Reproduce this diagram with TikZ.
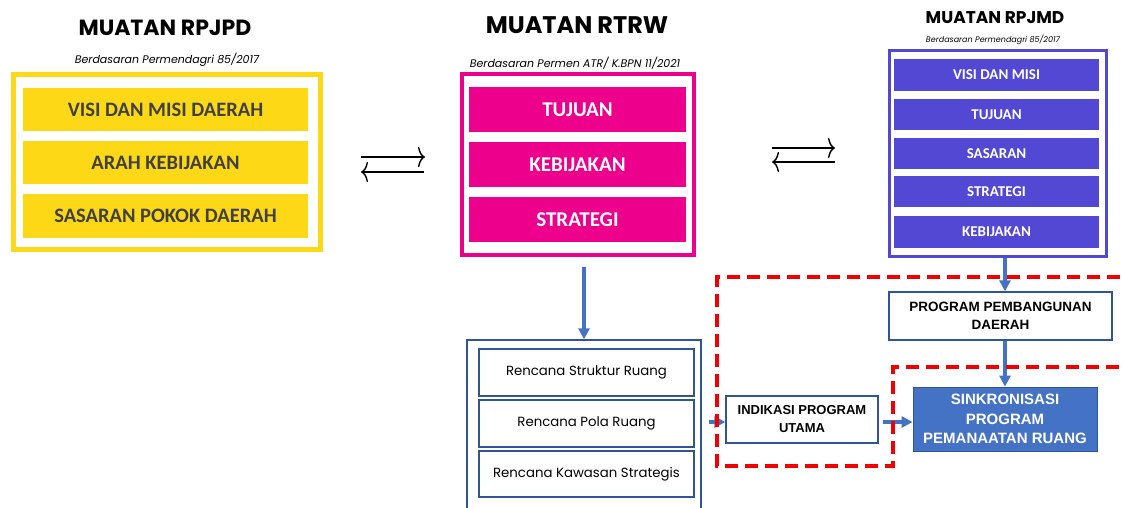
\documentclass[tikz,border=0pt]{standalone}
\usepackage{fontspec}
\setmainfont{Carlito}
\newfontfamily\geo{Poppins}
\newfontfamily\arialish{Liberation Sans}
\usetikzlibrary{arrows.meta, calc}

\definecolor{rpjpdYellow}{RGB}{253,216,22}
\definecolor{boxText}{RGB}{64,64,64}
\definecolor{rtrwPink}{RGB}{236,0,140}
\definecolor{rpjmdViolet}{RGB}{82,72,212}
\definecolor{flowBlue}{RGB}{68,114,196}
\definecolor{edgeBlue}{RGB}{47,85,151}
\definecolor{zoneRed}{RGB}{240,0,0}

\begin{document}
\begin{tikzpicture}[
  x=1pt, y=-1pt,
  title/.style={font=\geo\bfseries\fontsize{22}{24}\selectfont, inner sep=0pt},
  basis/.style={font=\geo\itshape\fontsize{11}{13}\selectfont, inner sep=0pt},
  yframe/.style={draw=rpjpdYellow, line width=5pt, inner sep=0pt},
  pframe/.style={draw=rtrwPink, line width=4.5pt, inner sep=0pt},
  vframe/.style={draw=rpjmdViolet, line width=3pt, inner sep=0pt},
  ybox/.style={fill=rpjpdYellow, text=boxText, minimum width=285pt, minimum height=43pt,
    inner sep=0pt, font=\bfseries\fontsize{20.5}{23}\selectfont},
  pbox/.style={fill=rtrwPink, text=white, minimum width=217pt, minimum height=45pt,
    inner sep=0pt, font=\bfseries\fontsize{21}{24}\selectfont},
  vbox/.style={fill=rpjmdViolet, text=white, minimum width=205pt, minimum height=31pt,
    inner sep=0pt, font=\bfseries\fontsize{15}{17}\selectfont},
  plan/.style={draw=edgeBlue, line width=1.3pt, minimum width=215pt, minimum height=47pt,
    inner sep=0pt, font=\geo\fontsize{13.3}{16}\selectfont},
  prog/.style={draw=edgeBlue, line width=1.3pt, inner sep=0pt, align=center,
    font=\arialish\bfseries\fontsize{13.5}{18}\selectfont},
  sync/.style={fill=flowBlue, draw=edgeBlue, line width=0.8pt, text=white, inner sep=0pt,
    align=center, font=\arialish\bfseries\fontsize{15}{19.5}\selectfont},
  swap/.style={-{To[length=7pt, width=20pt]}, line width=1.4pt},
  flow/.style={-{Triangle[length=11pt, width=11pt]}, line width=3.5pt, draw=flowBlue},
  zone/.style={draw=zoneRed, line width=4pt, dash pattern=on 13pt off 7pt}
]
\clip (0,0) rectangle (1124,508);

% --- RPJPD column ---
\node[title] (tRpjpd) at (165,28) {MUATAN RPJPD};
\node[basis] (bRpjpd) at (167,60) {Berdasaran Permendagri 85/2017};
\node[yframe, minimum width=307pt, minimum height=175pt] (rpjpd) at (167,162) {};
\node[ybox] (rpjpdVisi) at (165.5,109.5) {VISI DAN MISI DAERAH};
\node[ybox] (rpjpdArah) at (165.5,162.5) {ARAH KEBIJAKAN};
\node[ybox, minimum height=44pt] (rpjpdSasaran) at (165.5,216) {SASARAN POKOK DAERAH};

% --- RTRW column ---
\node[title, font=\geo\bfseries\fontsize{24}{26}\selectfont] (tRtrw) at (577,25) {MUATAN RTRW};
\node[basis] (bRtrw) at (575,63) {Berdasaran Permen ATR/ K.BPN 11/2021};
\node[pframe, minimum width=232pt, minimum height=181pt] (rtrw) at (578,164.5) {};
\node[pbox] (rtrwTujuan) at (577.5,109.5) {TUJUAN};
\node[pbox] (rtrwKebijakan) at (577.5,164.5) {KEBIJAKAN};
\node[pbox] (rtrwStrategi) at (577.5,219.5) {STRATEGI};

% --- RPJMD column ---
\node[title, font=\geo\bfseries\fontsize{17}{19}\selectfont] (tRpjmd) at (995,18) {MUATAN RPJMD};
\node[basis, font=\geo\itshape\fontsize{8}{10}\selectfont] (bRpjmd) at (993,40) {Berdasaran Permendagri 85/2017};
\node[vframe, minimum width=217pt, minimum height=206pt] (rpjmd) at (998,153.5) {};
\node[vbox, minimum height=32pt] (rpjmdVisi) at (996.5,75) {VISI DAN MISI};
\node[vbox] (rpjmdTujuan) at (996.5,114.5) {TUJUAN};
\node[vbox] (rpjmdSasaran) at (996.5,153.5) {SASARAN};
\node[vbox] (rpjmdStrategi) at (996.5,191.5) {STRATEGI};
\node[vbox, minimum height=32pt] (rpjmdKebijakan) at (996.5,232) {KEBIJAKAN};

% --- two-way links between the columns ---
\coordinate (swapAl) at (361,157);
\coordinate (swapAr) at (425,157);
\coordinate (swapBl) at (361,172);
\coordinate (swapBr) at (424,172);
\draw[swap] (swapAl) -- (swapAr);
\draw[swap] (swapBr) -- (swapBl);
\coordinate (swapCl) at (772,148);
\coordinate (swapCr) at (835,148);
\coordinate (swapDl) at (772,162);
\coordinate (swapDr) at (835,162);
\draw[swap] (swapCl) -- (swapCr);
\draw[swap] (swapDr) -- (swapDl);

% --- spatial plan contents ---
\node[draw=edgeBlue, line width=1.3pt, minimum width=234pt, minimum height=180pt, inner sep=0pt]
  (rencana) at (584,430) {};
\node[plan] (rStruktur) at (586.5,372.5) {Rencana Struktur Ruang};
\node[plan] (rPola) at (586.5,423.5) {Rencana Pola Ruang};
\node[plan, minimum height=46pt] (rKawasan) at (586.5,474) {Rencana Kawasan Strategis};

% --- programme boxes ---
\node[prog, minimum width=223pt, minimum height=48pt] (pembangunan) at (1000.5,316)
  {PROGRAM PEMBANGUNAN\\DAERAH};
\node[prog, minimum width=152pt, minimum height=47pt, font=\arialish\bfseries\fontsize{13}{18}\selectfont]
  (indikasi) at (802,419.5) {INDIKASI PROGRAM\\UTAMA};
\node[sync, minimum width=184pt, minimum height=64pt] (sinkron) at (1005,419)
  {SINKRONISASI\\PROGRAM\\PEMANAATAN RUANG};

% --- flows ---
\draw[flow] ([yshift=-10pt]rtrw.south -| rencana.north) -- (rencana.north);
\draw[flow] (rpjmd.south -| sinkron.north) -- (sinkron.north |- pembangunan.north);
\draw[flow] (pembangunan.south -| sinkron.north) -- (sinkron.north);
\draw[flow] ([xshift=7pt]rencana.east |- 0,422) -- (indikasi.west |- 0,422);
\draw[flow] ([xshift=4pt]indikasi.east |- 0,422) -- (sinkron.west |- 0,422);

% --- highlighted zone ---
\draw[zone] (1140,277) -- (717,277) -- (717,466) -- (893,466) -- (893,367) -- (1140,367);
\end{tikzpicture}
\end{document}
